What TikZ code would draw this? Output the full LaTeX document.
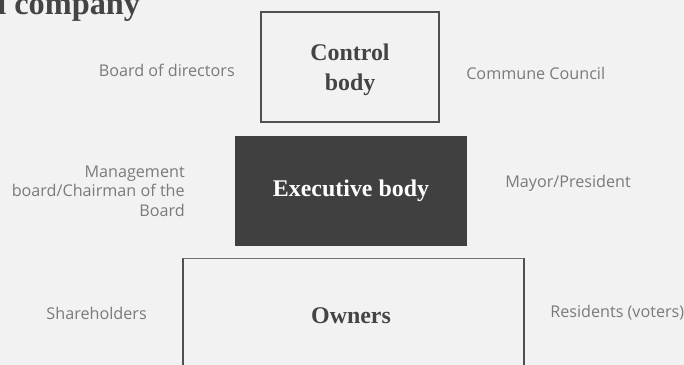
\documentclass[tikz,border=0pt]{standalone}
\usepackage{fontspec}
\setmainfont{Liberation Serif}
\setsansfont{Open Sans}
\usetikzlibrary{positioning}
\definecolor{pagebg}{HTML}{F2F2F2}
\definecolor{boxline}{HTML}{505050}
\definecolor{darkbox}{HTML}{404040}
\definecolor{sidegray}{HTML}{7A7A7A}
\definecolor{headgray}{HTML}{444444}

\begin{document}
\begin{tikzpicture}[x=0.025cm, y=-0.025cm,
    sidelabel/.style={font=\sffamily\fontsize{11.5}{14}\selectfont, text=sidegray, inner sep=0pt},
    boxtitle/.style={font=\bfseries\fontsize{17}{20}\selectfont, text=headgray, align=center}]
    \fill[pagebg] (0,0) rectangle (684,365);
    \useasboundingbox (0,0) rectangle (684,365);
    \clip (0,0) rectangle (684,365);

    % title, cut off by the top edge
    \node[anchor=base west, inner sep=0pt, font=\bfseries\fontsize{23}{25}\selectfont, text=headgray] (title) at (-3,15) {l company};

    % control body
    \node[draw=boxline, line width=0.9pt, minimum width=4.45cm, minimum height=2.75cm] (control) at (350,67) {};
    \node[boxtitle] (controltext) at (350,70) {Control\\[1pt]body};
    \node[sidelabel, anchor=east] (board) at (235,70) {Board of directors};
    \node[sidelabel, anchor=west] (council) at (466,73) {Commune Council};

    % executive body
    \node[fill=darkbox, minimum width=5.8cm, minimum height=2.75cm, boxtitle, text=white] (exec) at (351,191) {Executive body};
    \node[sidelabel, anchor=east, align=right] (mgmt) at (185,191) {Management\\board/Chairman of the\\Board};
    \node[sidelabel, anchor=west] (mayor) at (505,183) {Mayor/President};

    % owners, box runs off the bottom
    \draw[boxline, line width=1pt] (183,380) -- (183,258);
    \draw[boxline, line width=1pt] (524,380) -- (524,258);
    \draw[boxline!80, line width=0.6pt] (183,258) -- (524,258);
    \node[boxtitle] (owners) at (351,316) {Owners};
    \node[sidelabel, anchor=east] (share) at (147,313) {Shareholders};
    \node[sidelabel, anchor=west] (voters) at (550,313) {Residents (voters)};
\end{tikzpicture}
\end{document}
